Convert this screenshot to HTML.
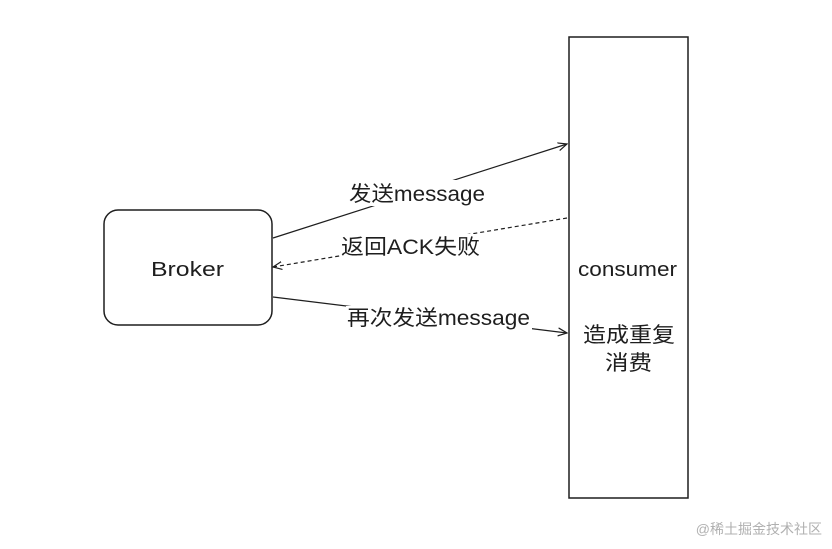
<!DOCTYPE html>
<html><head><meta charset="utf-8"><style>
body{margin:0;background:#fff;width:832px;height:544px;overflow:hidden}
svg text{font-family:"Liberation Sans","Noto Sans CJK SC",sans-serif;fill:#1e1e1e}
</style></head><body>
<svg width="832" height="544" xmlns="http://www.w3.org/2000/svg">
<defs><marker id="a" markerWidth="10" markerHeight="10" refX="9" refY="5" orient="auto" markerUnits="userSpaceOnUse"><path d="M0,1 L9,5 L0,9" fill="none" stroke="#1e1e1e" stroke-width="1.2"/></marker></defs>
<rect x="104" y="210" width="168" height="115" rx="14" fill="none" stroke="#1e1e1e" stroke-width="1.5"/>
<text x="151" y="276" font-size="20" textLength="73" lengthAdjust="spacingAndGlyphs">Broker</text>
<rect x="569" y="37" width="119" height="461" fill="none" stroke="#1e1e1e" stroke-width="1.5"/>
<text x="578" y="276" font-size="20" textLength="99" lengthAdjust="spacingAndGlyphs">consumer</text>
<text x="583" y="342" font-size="21" textLength="92" lengthAdjust="spacingAndGlyphs">造成重复</text>
<text x="605" y="370" font-size="21" textLength="47" lengthAdjust="spacingAndGlyphs">消费</text>
<line x1="273" y1="238" x2="567" y2="144" stroke="#1e1e1e" stroke-width="1.2" marker-end="url(#a)"/>
<line x1="567" y1="218" x2="273" y2="267" stroke="#1e1e1e" stroke-width="1.2" stroke-dasharray="4,3" marker-end="url(#a)"/>
<line x1="273" y1="297" x2="567" y2="333" stroke="#1e1e1e" stroke-width="1.2" marker-end="url(#a)"/>
<rect x="348" y="180" width="138" height="26" fill="#fff"/>
<rect x="340" y="234" width="142" height="26" fill="#fff"/>
<rect x="346" y="306" width="186" height="24" fill="#fff"/>
<text x="349" y="201" font-size="21" textLength="136" lengthAdjust="spacingAndGlyphs">发送message</text>
<text x="341" y="254" font-size="21" textLength="139" lengthAdjust="spacingAndGlyphs">返回ACK失败</text>
<text x="347" y="325" font-size="21" textLength="183" lengthAdjust="spacingAndGlyphs">再次发送message</text>
<text x="822" y="534" font-size="14" text-anchor="end" style="fill:#b0b0b0">@稀土掘金技术社区</text>
</svg>
</body></html>
